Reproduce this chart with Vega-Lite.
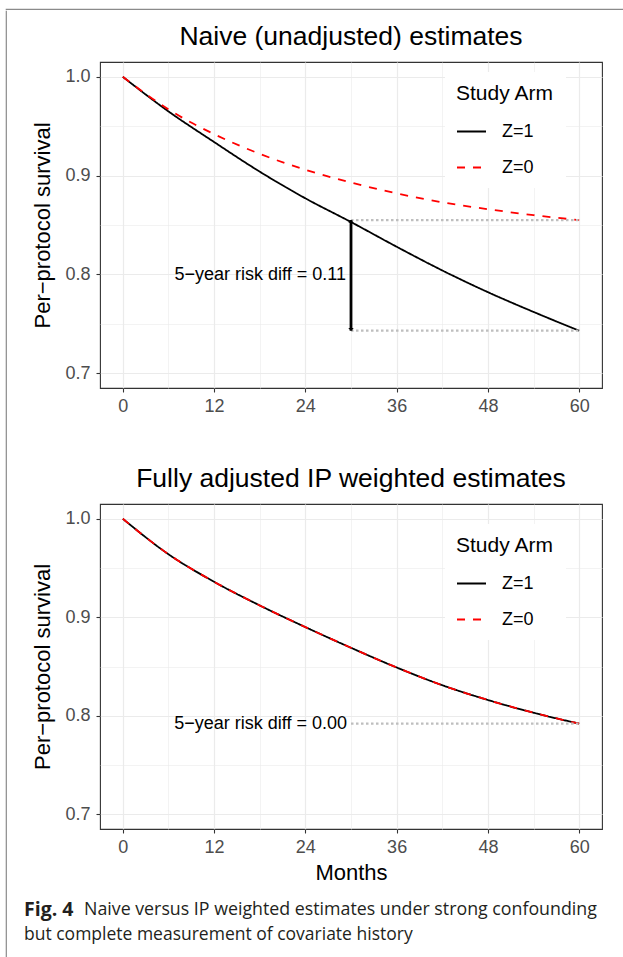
{
  "$schema": "https://vega.github.io/schema/vega-lite/v6.json",
  "background": "white",
  "padding": {"left": 5, "top": 8, "right": 0, "bottom": 0},
  "spacing": 0,
  "resolve": {"scale": {"color": "independent", "strokeDash": "independent"}},
  "config": {
    "font": "Liberation Sans",
    "view": {"stroke": "#333333", "strokeWidth": 1.1},
    "axis": {
      "domain": false,
      "tickColor": "#333333",
      "tickWidth": 1.1,
      "tickSize": 4,
      "labelColor": "#4d4d4d",
      "labelFontSize": 18,
      "labelFont": "Liberation Sans",
      "labelFlush": false,
      "labelOverlap": false,
      "titleFont": "Liberation Sans",
      "titleFontSize": 22,
      "titleFontWeight": "normal",
      "titleColor": "black",
      "gridColor": "#ebebeb"
    },
    "title": {"fontSize": 26.5, "fontWeight": "normal", "anchor": "middle", "frame": "group", "color": "black", "font": "Liberation Sans", "offset": 12},
    "legend": {
      "fillColor": "white",
      "padding": 11,
      "titleFont": "Liberation Sans",
      "titleFontSize": 21,
      "titleFontWeight": "normal",
      "titleColor": "black",
      "titlePadding": 12,
      "labelFont": "Liberation Sans",
      "labelFontSize": 18,
      "labelColor": "black",
      "symbolType": "stroke",
      "symbolSize": 841,
      "symbolStrokeWidth": 1.8,
      "rowPadding": 11,
      "labelOffset": 15
    }
  },
  "datasets": {
    "naive": [
      {"month": 0, "survival": 1.000, "arm": "Z=1"},
      {"month": 6, "survival": 0.965, "arm": "Z=1"},
      {"month": 12, "survival": 0.934, "arm": "Z=1"},
      {"month": 18, "survival": 0.904, "arm": "Z=1"},
      {"month": 24, "survival": 0.877, "arm": "Z=1"},
      {"month": 30, "survival": 0.853, "arm": "Z=1"},
      {"month": 36, "survival": 0.828, "arm": "Z=1"},
      {"month": 42, "survival": 0.804, "arm": "Z=1"},
      {"month": 48, "survival": 0.782, "arm": "Z=1"},
      {"month": 54, "survival": 0.762, "arm": "Z=1"},
      {"month": 60, "survival": 0.743, "arm": "Z=1"},
      {"month": 0, "survival": 1.000, "arm": "Z=0"},
      {"month": 6, "survival": 0.967, "arm": "Z=0"},
      {"month": 12, "survival": 0.942, "arm": "Z=0"},
      {"month": 18, "survival": 0.922, "arm": "Z=0"},
      {"month": 24, "survival": 0.906, "arm": "Z=0"},
      {"month": 30, "survival": 0.893, "arm": "Z=0"},
      {"month": 36, "survival": 0.882, "arm": "Z=0"},
      {"month": 42, "survival": 0.873, "arm": "Z=0"},
      {"month": 48, "survival": 0.866, "arm": "Z=0"},
      {"month": 54, "survival": 0.860, "arm": "Z=0"},
      {"month": 60, "survival": 0.855, "arm": "Z=0"}
    ],
    "ipw": [
      {"month": 0, "survival": 1.000, "arm": "Z=1"},
      {"month": 6, "survival": 0.964, "arm": "Z=1"},
      {"month": 12, "survival": 0.936, "arm": "Z=1"},
      {"month": 18, "survival": 0.912, "arm": "Z=1"},
      {"month": 24, "survival": 0.890, "arm": "Z=1"},
      {"month": 30, "survival": 0.869, "arm": "Z=1"},
      {"month": 36, "survival": 0.849, "arm": "Z=1"},
      {"month": 42, "survival": 0.831, "arm": "Z=1"},
      {"month": 48, "survival": 0.816, "arm": "Z=1"},
      {"month": 54, "survival": 0.803, "arm": "Z=1"},
      {"month": 60, "survival": 0.792, "arm": "Z=1"},
      {"month": 0, "survival": 1.000, "arm": "Z=0"},
      {"month": 6, "survival": 0.964, "arm": "Z=0"},
      {"month": 12, "survival": 0.936, "arm": "Z=0"},
      {"month": 18, "survival": 0.912, "arm": "Z=0"},
      {"month": 24, "survival": 0.890, "arm": "Z=0"},
      {"month": 30, "survival": 0.869, "arm": "Z=0"},
      {"month": 36, "survival": 0.849, "arm": "Z=0"},
      {"month": 42, "survival": 0.831, "arm": "Z=0"},
      {"month": 48, "survival": 0.816, "arm": "Z=0"},
      {"month": 54, "survival": 0.803, "arm": "Z=0"},
      {"month": 60, "survival": 0.792, "arm": "Z=0"}
    ],
    "naiveDiff": [
      {"from": 30, "to": 60, "z1": 0.743, "z0": 0.855, "label": "5−year risk diff = 0.11"}
    ],
    "ipwDiff": [
      {"from": 30, "to": 60, "z1": 0.792, "z0": 0.792, "label": "5−year risk diff = 0.00"}
    ],
    "caption": [
      {"line": 1, "part": "label", "text": "Fig. 4"},
      {"line": 1, "part": "body", "text": "Naive versus IP weighted estimates under strong confounding"},
      {"line": 2, "part": "body", "text": "but complete measurement of covariate history"}
    ],
    "blank": [{}]
  },
  "vconcat": [
    {
      "width": 618,
      "height": 0.01,
      "view": {"stroke": "#8a8a8a", "strokeWidth": 1.2},
      "data": {"name": "blank"},
      "mark": {"type": "rect", "opacity": 0}
    },
    {
      "resolve": {"scale": {"color": "independent", "strokeDash": "independent"}},
      "spacing": 17,
      "hconcat": [
        {
          "width": 0.01,
          "height": 960,
          "view": {"stroke": "#8a8a8a", "strokeWidth": 1.2},
          "data": {"name": "blank"},
          "mark": {"type": "rect", "opacity": 0}
        },
        {
          "resolve": {"scale": {"color": "independent", "strokeDash": "independent"}},
          "spacing": 10,
          "vconcat": [
            {
              "width": 0.01,
              "height": 0.01,
              "view": {"stroke": null},
              "data": {"name": "blank"},
              "mark": {"type": "rect", "opacity": 0}
            },
            {
              "resolve": {"scale": {"color": "independent", "strokeDash": "independent"}},
              "spacing": 13,
              "vconcat": [
                {
                  "resolve": {"scale": {"color": "independent", "strokeDash": "independent"}},
                  "spacing": 48,
                  "vconcat": [
                    {
                      "width": 502,
                      "height": 326,
                      "title": "Naive (unadjusted) estimates",
                      "layer": [
                        {
                          "data": {"name": "naive"},
                          "mark": {"type": "line", "strokeWidth": 1.8, "interpolate": "monotone"},
                          "encoding": {
                            "x": {
                              "field": "month", "type": "quantitative",
                              "scale": {"domain": [-3, 63], "nice": false, "zero": false},
                              "axis": {
                                "values": [0, 6, 12, 18, 24, 30, 36, 42, 48, 54, 60],
                                "title": null,
                                "grid": true,
                                "gridWidth": {"condition": {"test": "datum.value % 12 !== 0", "value": 0.6}, "value": 1.2},
                                "tickOpacity": {"condition": {"test": "datum.value % 12 !== 0", "value": 0}, "value": 1},
                                "labelExpr": "datum.value % 12 === 0 ? datum.label : ''",
                                "labelPadding": 5
                              }
                            },
                            "y": {
                              "field": "survival", "type": "quantitative",
                              "scale": {"domain": [0.685, 1.015], "nice": false, "zero": false},
                              "axis": {
                                "values": [0.7, 0.75, 0.8, 0.85, 0.9, 0.95, 1.0],
                                "title": "Per−protocol survival",
                                "grid": true,
                                "gridWidth": {"condition": {"test": "round(datum.value * 100) % 10 !== 0", "value": 0.6}, "value": 1.2},
                                "tickOpacity": {"condition": {"test": "round(datum.value * 100) % 10 !== 0", "value": 0}, "value": 1},
                                "labelExpr": "round(datum.value * 100) % 10 === 0 ? format(datum.value, '.1f') : ''",
                                "labelPadding": 6,
                                "titlePadding": 10
                              }
                            },
                            "color": {
                              "field": "arm", "type": "nominal",
                              "scale": {"domain": ["Z=1", "Z=0"], "range": ["#000000", "#ff0000"]},
                              "legend": {"title": "Study Arm", "orient": "none", "legendX": 345, "legendY": 10}
                            },
                            "strokeDash": {
                              "field": "arm", "type": "nominal",
                              "scale": {"domain": ["Z=1", "Z=0"], "range": [[1, 0], [8, 8]]},
                              "legend": {"title": "Study Arm", "orient": "none", "legendX": 345, "legendY": 10}
                            }
                          }
                        },
                        {
                          "data": {"name": "naiveDiff"},
                          "mark": {"type": "rule", "color": "#bebebe", "strokeWidth": 2.2, "strokeDash": [2.5, 2.5]},
                          "encoding": {
                            "x": {"field": "from", "type": "quantitative"},
                            "x2": {"field": "to"},
                            "y": {"field": "z0", "type": "quantitative"}
                          }
                        },
                        {
                          "data": {"name": "naiveDiff"},
                          "mark": {"type": "rule", "color": "#bebebe", "strokeWidth": 2.2, "strokeDash": [2.5, 2.5]},
                          "encoding": {
                            "x": {"field": "from", "type": "quantitative"},
                            "x2": {"field": "to"},
                            "y": {"field": "z1", "type": "quantitative"}
                          }
                        },
                        {
                          "data": {"name": "naiveDiff"},
                          "mark": {"type": "rule", "color": "black", "strokeWidth": 2.8},
                          "encoding": {
                            "x": {"field": "from", "type": "quantitative"},
                            "y": {"field": "z0", "type": "quantitative"},
                            "y2": {"field": "z1"}
                          }
                        },
                        {
                          "data": {"name": "naiveDiff"},
                          "mark": {"type": "point", "shape": "M-1,1L0,0L1,1Z", "size": 30, "filled": true, "color": "black", "opacity": 1},
                          "encoding": {
                            "x": {"field": "from", "type": "quantitative"},
                            "y": {"field": "z0", "type": "quantitative"}
                          }
                        },
                        {
                          "data": {"name": "naiveDiff"},
                          "mark": {"type": "point", "shape": "M-1,-1L0,0L1,-1Z", "size": 30, "filled": true, "color": "black", "opacity": 1},
                          "encoding": {
                            "x": {"field": "from", "type": "quantitative"},
                            "y": {"field": "z1", "type": "quantitative"}
                          }
                        },
                        {
                          "data": {"name": "naiveDiff"},
                          "transform": [{"calculate": "(datum.z0 + datum.z1) / 2", "as": "mid"}],
                          "mark": {"type": "text", "align": "right", "baseline": "middle", "dx": -5, "fontSize": 18, "color": "black"},
                          "encoding": {
                            "x": {"field": "from", "type": "quantitative"},
                            "y": {"field": "mid", "type": "quantitative"},
                            "text": {"field": "label"}
                          }
                        }
                      ]
                    },
                    {
                      "width": 502,
                      "height": 325,
                      "title": "Fully adjusted IP weighted estimates",
                      "layer": [
                        {
                          "data": {"name": "ipw"},
                          "mark": {"type": "line", "strokeWidth": 1.8, "interpolate": "monotone"},
                          "encoding": {
                            "x": {
                              "field": "month", "type": "quantitative",
                              "scale": {"domain": [-3, 63], "nice": false, "zero": false},
                              "axis": {
                                "values": [0, 6, 12, 18, 24, 30, 36, 42, 48, 54, 60],
                                "title": "Months",
                                "grid": true,
                                "gridWidth": {"condition": {"test": "datum.value % 12 !== 0", "value": 0.6}, "value": 1.2},
                                "tickOpacity": {"condition": {"test": "datum.value % 12 !== 0", "value": 0}, "value": 1},
                                "labelExpr": "datum.value % 12 === 0 ? datum.label : ''",
                                "labelPadding": 5,
                                "titlePadding": 6
                              }
                            },
                            "y": {
                              "field": "survival", "type": "quantitative",
                              "scale": {"domain": [0.685, 1.015], "nice": false, "zero": false},
                              "axis": {
                                "values": [0.7, 0.75, 0.8, 0.85, 0.9, 0.95, 1.0],
                                "title": "Per−protocol survival",
                                "grid": true,
                                "gridWidth": {"condition": {"test": "round(datum.value * 100) % 10 !== 0", "value": 0.6}, "value": 1.2},
                                "tickOpacity": {"condition": {"test": "round(datum.value * 100) % 10 !== 0", "value": 0}, "value": 1},
                                "labelExpr": "round(datum.value * 100) % 10 === 0 ? format(datum.value, '.1f') : ''",
                                "labelPadding": 6,
                                "titlePadding": 10
                              }
                            },
                            "color": {
                              "field": "arm", "type": "nominal",
                              "scale": {"domain": ["Z=1", "Z=0"], "range": ["#000000", "#ff0000"]},
                              "legend": {"title": "Study Arm", "orient": "none", "legendX": 345, "legendY": 20}
                            },
                            "strokeDash": {
                              "field": "arm", "type": "nominal",
                              "scale": {"domain": ["Z=1", "Z=0"], "range": [[1, 0], [8, 8]]},
                              "legend": {"title": "Study Arm", "orient": "none", "legendX": 345, "legendY": 20}
                            }
                          }
                        },
                        {
                          "data": {"name": "ipwDiff"},
                          "mark": {"type": "rule", "color": "#bebebe", "strokeWidth": 2.2, "strokeDash": [2.5, 2.5]},
                          "encoding": {
                            "x": {"field": "from", "type": "quantitative"},
                            "x2": {"field": "to"},
                            "y": {"field": "z0", "type": "quantitative"}
                          }
                        },
                        {
                          "data": {"name": "ipwDiff"},
                          "transform": [{"calculate": "(datum.z0 + datum.z1) / 2", "as": "mid"}],
                          "mark": {"type": "text", "align": "right", "baseline": "middle", "dx": -4, "fontSize": 18, "color": "black"},
                          "encoding": {
                            "x": {"field": "from", "type": "quantitative"},
                            "y": {"field": "mid", "type": "quantitative"},
                            "text": {"field": "label"}
                          }
                        }
                      ]
                    }
                  ]
                },
                {
                  "width": 502,
                  "height": 50,
                  "view": {"stroke": null},
                  "data": {"name": "caption"},
                  "encoding": {
                    "x": {"datum": 0, "type": "quantitative", "scale": {"domain": [0, 1]}, "axis": null},
                    "y": {"field": "line", "type": "ordinal", "scale": {"type": "point", "padding": 0.5}, "axis": null},
                    "text": {"field": "text"}
                  },
                  "layer": [
                    {
                      "transform": [{"filter": "datum.part === 'label'"}],
                      "mark": {"type": "text", "align": "left", "baseline": "middle", "dx": -76, "font": "Open Sans", "fontSize": 19.5, "fontWeight": "bold", "color": "#231f20"}
                    },
                    {
                      "transform": [{"filter": "datum.part === 'body' && datum.line === 1"}],
                      "mark": {"type": "text", "align": "left", "baseline": "middle", "dx": -16, "font": "Open Sans", "fontSize": 17.8, "color": "#231f20"}
                    },
                    {
                      "transform": [{"filter": "datum.part === 'body' && datum.line === 2"}],
                      "mark": {"type": "text", "align": "left", "baseline": "middle", "dx": -76, "font": "Open Sans", "fontSize": 17.5, "color": "#231f20"}
                    }
                  ]
                }
              ]
            }
          ]
        }
      ]
    }
  ]
}
